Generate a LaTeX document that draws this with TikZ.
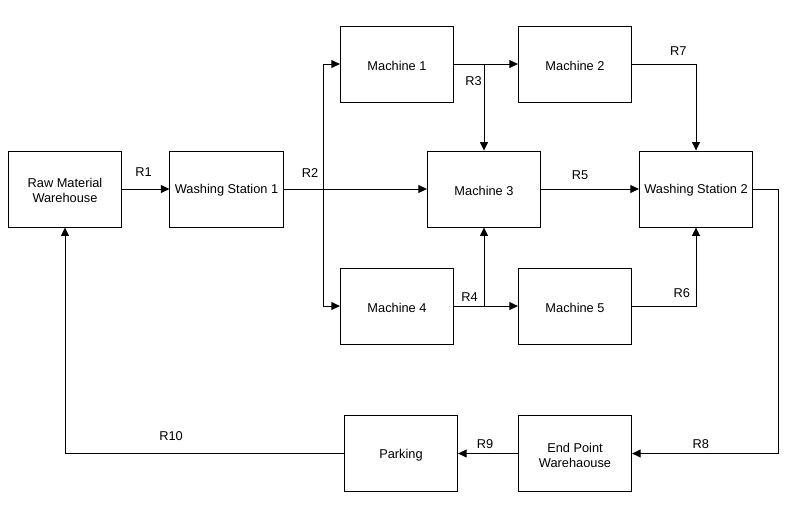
\documentclass[tikz,border=0pt]{standalone}
\usepackage{fontspec}
\setmainfont{Liberation Sans}
\usetikzlibrary{arrows.meta}
\begin{document}
\begin{tikzpicture}[x=1pt,y=-1pt,
  box/.style={draw, line width=0.9pt, minimum width=113.4pt, minimum height=76pt, inner sep=0pt, align=center, font=\fontsize{12.8}{15}\selectfont},
  btxt/.style={inner sep=0pt, align=center, font=\fontsize{12.8}{15}\selectfont, yshift=-1.5pt},
  arr/.style={line width=0.9pt, -{Triangle[length=8.5pt,width=8pt]}},
  lbl/.style={font=\fontsize{12.8}{15}\selectfont, inner sep=0pt}]
\useasboundingbox (0,0) rectangle (794,517);
\node[box] (rmw) at (65,189) {};
\node[box] (ws1) at (226.5,189) {};
\node[box] (m1) at (397,64) {};
\node[box] (m2) at (575,64) {};
\node[box] (m3) at (484,189) {};
\node[box] (ws2) at (696,189) {};
\node[box] (m4) at (397,306) {};
\node[box] (m5) at (575,306) {};
\node[box] (park) at (401,453.5) {};
\node[box] (epw) at (575,453.5) {};
\node[btxt] (trmw) at (rmw) {Raw Material\\Warehouse};
\node[btxt] (tws1) at (ws1) {Washing Station 1};
\node[btxt] (tm1) at (m1) {Machine 1};
\node[btxt] (tm2) at (m2) {Machine 2};
\node[btxt] (tm3) at (m3) {Machine 3};
\node[btxt] (tws2) at (ws2) {Washing Station 2};
\node[btxt] (tm4) at (m4) {Machine 4};
\node[btxt] (tm5) at (m5) {Machine 5};
\node[btxt] (tpark) at (park) {Parking};
\node[btxt] (tepw) at (epw) {End Point\\Warehaouse};
\coordinate (b2) at (323,189);
\coordinate (b3) at (484,64);
\coordinate (b4) at (484,306);
\coordinate (c8) at (778.5,453.5);
\draw[arr] (rmw) -- (ws1);
\draw[arr] (ws1) -- (m3);
\draw[arr] (b2) |- (m1);
\draw[arr] (b2) |- (m4);
\draw[arr] (m1) -- (m2);
\draw[arr] (b3) -- (m3.north);
\draw[arr] (m4) -- (m5);
\draw[arr] (b4) -- (m3.south);
\draw[arr] (m3) -- (ws2);
\draw[arr] (m2.east) -| (ws2.north);
\draw[arr] (m5.east) -| (ws2.south);
\draw[arr] (ws2.east) -| (c8) -- (epw.east);
\draw[arr] (epw) -- (park);
\draw[arr] (park.west) -| (rmw.south);
\node[lbl] (r1) at (143.5,172.3) {R1};
\node[lbl] (r2) at (310,173.3) {R2};
\node[lbl] (r3) at (473.5,81) {R3};
\node[lbl] (r4) at (469.5,296.7) {R4};
\node[lbl] (r5) at (580,175) {R5};
\node[lbl] (r6) at (681.7,292.7) {R6};
\node[lbl] (r7) at (678.3,51) {R7};
\node[lbl] (r8) at (700.7,444) {R8};
\node[lbl] (r9) at (485,444) {R9};
\node[lbl] (r10) at (171,435.7) {R10};
\end{tikzpicture}
\end{document}
